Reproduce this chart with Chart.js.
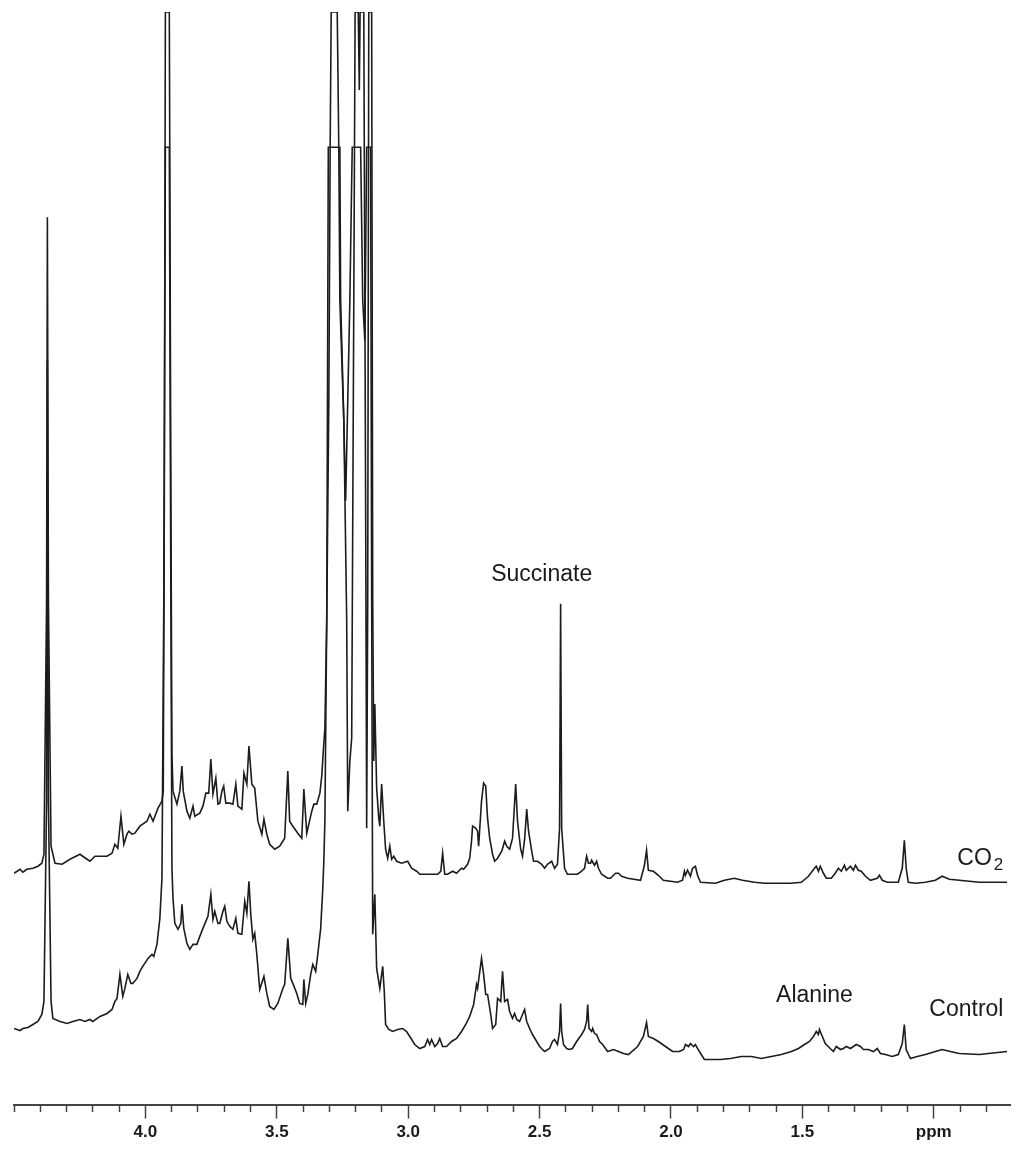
<!DOCTYPE html>
<html>
<head>
<meta charset="utf-8">
<script src="https://cdn.jsdelivr.net/npm/chart.js@4.4.0/dist/chart.umd.min.js"></script>
<style>
  html, body { margin: 0; padding: 0; background: #ffffff; }
  #wrap { width: 1024px; height: 1151px; }
</style>
</head>
<body>
<div id="wrap"><canvas id="nmr" width="1024" height="1151"></canvas></div>
<script>
// 1H NMR spectra, [chemical shift (ppm), intensity]
const co2Trace = [
  [4.500, 231], [4.477, 235], [4.466, 232], [4.451, 235], [4.428, 236], [4.409, 238], [4.394, 241], [4.386, 250],
  [4.376, 503], [4.373, 886], [4.369, 503], [4.359, 258], [4.344, 241], [4.317, 240], [4.287, 245], [4.249, 250],
  [4.222, 245], [4.211, 243], [4.192, 248], [4.146, 248], [4.127, 251], [4.116, 260], [4.105, 256], [4.093, 288],
  [4.082, 260], [4.070, 270], [4.063, 273], [4.051, 270], [4.040, 271], [4.021, 278], [3.994, 283], [3.983, 290],
  [3.971, 283], [3.952, 296], [3.937, 303], [3.932, 313], [3.928, 603], [3.924, 1091], [3.909, 1091], [3.903, 603],
  [3.899, 350], [3.895, 313], [3.880, 300], [3.869, 313], [3.861, 338], [3.856, 313], [3.842, 293], [3.831, 286],
  [3.819, 298], [3.812, 288], [3.793, 291], [3.781, 298], [3.770, 311], [3.759, 311], [3.751, 345], [3.743, 310],
  [3.732, 326], [3.724, 300], [3.717, 301], [3.709, 313], [3.702, 318], [3.694, 301], [3.679, 301], [3.667, 300],
  [3.656, 320], [3.648, 298], [3.633, 295], [3.625, 331], [3.614, 320], [3.606, 358], [3.595, 320], [3.584, 316],
  [3.572, 283], [3.557, 270], [3.549, 285], [3.538, 270], [3.527, 260], [3.508, 255], [3.489, 258], [3.470, 266],
  [3.458, 333], [3.451, 283], [3.439, 278], [3.420, 271], [3.405, 266], [3.397, 315], [3.386, 271], [3.378, 280],
  [3.367, 293], [3.359, 300], [3.348, 300], [3.336, 311], [3.329, 328], [3.323, 353], [3.317, 376], [3.310, 483],
  [3.302, 703], [3.297, 953], [3.293, 1091], [3.270, 1091], [3.264, 953], [3.260, 803], [3.245, 683], [3.234, 483],
  [3.230, 293], [3.222, 343], [3.215, 366], [3.207, 803], [3.202, 1091], [3.190, 1091], [3.186, 1013], [3.183, 1091],
  [3.169, 1091], [3.162, 603], [3.158, 276], [3.154, 503], [3.150, 1091], [3.139, 1091], [3.135, 503], [3.131, 343],
  [3.127, 400], [3.120, 316], [3.112, 286], [3.108, 278], [3.101, 320], [3.093, 283], [3.086, 255], [3.078, 246],
  [3.070, 258], [3.063, 245], [3.055, 248], [3.044, 243], [3.025, 241], [3.002, 243], [2.987, 236], [2.968, 233],
  [2.956, 230], [2.888, 230], [2.876, 233], [2.869, 251], [2.861, 230], [2.850, 230], [2.831, 233], [2.816, 231],
  [2.797, 236], [2.789, 235], [2.774, 240], [2.766, 246], [2.759, 263], [2.755, 278], [2.743, 276], [2.736, 273],
  [2.732, 258], [2.721, 303], [2.713, 321], [2.705, 318], [2.698, 286], [2.690, 266], [2.679, 250], [2.671, 243],
  [2.660, 246], [2.644, 253], [2.633, 263], [2.625, 258], [2.614, 255], [2.603, 266], [2.591, 320], [2.584, 283],
  [2.572, 255], [2.565, 248], [2.557, 265], [2.549, 295], [2.542, 273], [2.530, 253], [2.523, 243], [2.508, 243],
  [2.492, 240], [2.481, 236], [2.470, 240], [2.454, 243], [2.443, 236], [2.432, 240], [2.424, 276], [2.420, 500],
  [2.416, 276], [2.405, 236], [2.394, 230], [2.356, 230], [2.340, 233], [2.329, 236], [2.321, 248], [2.314, 241],
  [2.306, 241], [2.302, 244], [2.291, 239], [2.283, 243], [2.276, 236], [2.264, 230], [2.241, 226], [2.230, 226],
  [2.211, 231], [2.200, 231], [2.188, 228], [2.165, 226], [2.116, 224], [2.101, 239], [2.093, 254], [2.086, 234],
  [2.067, 233], [2.048, 229], [2.029, 224], [1.975, 222], [1.956, 224], [1.949, 233], [1.945, 229], [1.937, 234],
  [1.926, 228], [1.918, 236], [1.907, 238], [1.899, 229], [1.888, 222], [1.831, 221], [1.797, 224], [1.759, 226],
  [1.728, 224], [1.682, 222], [1.644, 221], [1.542, 221], [1.504, 222], [1.477, 228], [1.454, 236], [1.447, 238],
  [1.439, 233], [1.432, 238], [1.420, 231], [1.409, 226], [1.390, 226], [1.375, 231], [1.363, 236], [1.352, 233],
  [1.340, 239], [1.333, 234], [1.317, 238], [1.306, 234], [1.298, 239], [1.287, 234], [1.276, 233], [1.260, 228],
  [1.241, 224], [1.215, 226], [1.207, 229], [1.196, 224], [1.177, 222], [1.135, 222], [1.120, 236], [1.112, 264],
  [1.105, 236], [1.097, 222], [1.070, 221], [1.032, 222], [0.994, 224], [0.968, 228], [0.941, 225], [0.903, 224],
  [0.827, 222], [0.721, 222]
];

const controlTrace = [
  [4.500, 76], [4.477, 74], [4.466, 76], [4.447, 77], [4.428, 80], [4.409, 83], [4.394, 90], [4.386, 103],
  [4.376, 303], [4.373, 743], [4.369, 303], [4.359, 103], [4.352, 86], [4.325, 83], [4.298, 81], [4.276, 83],
  [4.249, 85], [4.230, 83], [4.211, 85], [4.200, 83], [4.173, 88], [4.146, 91], [4.127, 95], [4.116, 103],
  [4.108, 106], [4.097, 130], [4.086, 108], [4.078, 116], [4.067, 130], [4.055, 121], [4.048, 121], [4.032, 126],
  [4.021, 133], [4.010, 138], [3.990, 146], [3.975, 150], [3.968, 148], [3.956, 160], [3.945, 186], [3.937, 226],
  [3.930, 503], [3.924, 956], [3.909, 956], [3.903, 503], [3.899, 236], [3.895, 206], [3.888, 181], [3.876, 175],
  [3.865, 181], [3.861, 200], [3.854, 176], [3.842, 161], [3.831, 155], [3.819, 160], [3.804, 160], [3.793, 168],
  [3.781, 176], [3.770, 183], [3.762, 188], [3.751, 210], [3.743, 185], [3.736, 193], [3.724, 181], [3.717, 181],
  [3.705, 193], [3.698, 198], [3.690, 183], [3.679, 178], [3.667, 175], [3.656, 186], [3.648, 171], [3.633, 170],
  [3.622, 203], [3.614, 191], [3.606, 223], [3.599, 190], [3.591, 165], [3.584, 171], [3.576, 150], [3.565, 115],
  [3.549, 128], [3.538, 111], [3.527, 98], [3.511, 95], [3.496, 101], [3.477, 116], [3.470, 120], [3.458, 166],
  [3.447, 126], [3.439, 121], [3.424, 111], [3.413, 101], [3.401, 100], [3.397, 125], [3.390, 101], [3.382, 110],
  [3.371, 130], [3.363, 140], [3.352, 133], [3.344, 150], [3.333, 176], [3.325, 216], [3.321, 243], [3.317, 283],
  [3.310, 483], [3.304, 956], [3.260, 956], [3.257, 803], [3.245, 683], [3.238, 603], [3.222, 803], [3.213, 956],
  [3.181, 956], [3.173, 803], [3.165, 763], [3.158, 956], [3.143, 956], [3.139, 503], [3.135, 170], [3.127, 210],
  [3.120, 136], [3.108, 116], [3.097, 138], [3.091, 113], [3.086, 80], [3.074, 75], [3.059, 73], [3.040, 75],
  [3.021, 76], [3.006, 73], [2.994, 68], [2.975, 60], [2.956, 56], [2.937, 58], [2.926, 65], [2.918, 60],
  [2.911, 65], [2.899, 58], [2.888, 61], [2.880, 66], [2.869, 58], [2.854, 58], [2.835, 63], [2.816, 66],
  [2.797, 73], [2.781, 80], [2.766, 88], [2.751, 100], [2.740, 120], [2.736, 116], [2.721, 146], [2.713, 130],
  [2.705, 110], [2.698, 110], [2.686, 90], [2.679, 76], [2.667, 80], [2.660, 106], [2.648, 103], [2.641, 133],
  [2.633, 103], [2.622, 105], [2.614, 93], [2.603, 86], [2.595, 91], [2.587, 85], [2.576, 83], [2.565, 90],
  [2.557, 95], [2.549, 83], [2.538, 76], [2.527, 70], [2.511, 63], [2.500, 58], [2.481, 53], [2.462, 56],
  [2.451, 63], [2.443, 65], [2.432, 60], [2.424, 73], [2.420, 101], [2.416, 73], [2.409, 60], [2.397, 56],
  [2.386, 55], [2.375, 56], [2.359, 63], [2.340, 70], [2.329, 75], [2.321, 83], [2.317, 100], [2.312, 76],
  [2.302, 73], [2.298, 76], [2.291, 71], [2.283, 70], [2.272, 63], [2.260, 60], [2.241, 53], [2.219, 55],
  [2.200, 53], [2.181, 51], [2.162, 50], [2.127, 58], [2.105, 68], [2.093, 82], [2.086, 68], [2.067, 66],
  [2.048, 63], [2.021, 58], [1.994, 53], [1.968, 53], [1.952, 55], [1.945, 60], [1.933, 58], [1.926, 61],
  [1.914, 58], [1.907, 60], [1.892, 53], [1.873, 45], [1.812, 45], [1.774, 46], [1.732, 48], [1.694, 48],
  [1.656, 46], [1.618, 48], [1.580, 50], [1.542, 53], [1.515, 56], [1.492, 60], [1.473, 63], [1.458, 68],
  [1.447, 73], [1.439, 70], [1.435, 75], [1.424, 68], [1.413, 61], [1.394, 56], [1.382, 53], [1.371, 58],
  [1.355, 55], [1.344, 56], [1.333, 58], [1.317, 56], [1.306, 58], [1.295, 60], [1.279, 58], [1.268, 55],
  [1.249, 55], [1.230, 53], [1.215, 56], [1.203, 51], [1.184, 50], [1.158, 48], [1.135, 50], [1.120, 61],
  [1.112, 80], [1.105, 55], [1.089, 46], [1.063, 48], [1.032, 50], [0.994, 53], [0.968, 55], [0.937, 53],
  [0.903, 51], [0.827, 50], [0.721, 53]
];

// axis ticks
const majorTicks = [4.0, 3.5, 3.0, 2.5, 2.0, 1.5, 1.0];
const majorLabels = ['4.0', '3.5', '3.0', '2.5', '2.0', '1.5', 'ppm'];
const minorTicks = [4.5, 4.4, 4.3, 4.2, 4.1, 3.9, 3.8, 3.7, 3.6, 3.4, 3.3, 3.2, 3.1, 2.9, 2.8, 2.7, 2.6,
                    2.4, 2.3, 2.2, 2.1, 1.9, 1.8, 1.7, 1.6, 1.4, 1.3, 1.2, 1.1, 0.9, 0.8];

// peak / trace annotations (centre ppm, vertical level, subscript)
const noteText = ['Succinate', 'CO', 'Alanine', 'Control'];
const noteSub = ['', '2', '', ''];
const notePpm = [2.492, 0.823, 1.454, 0.876];
const noteLevel = [529, 246, 109, 95];

const majorIndex = v => majorTicks.findIndex(m => Math.abs(m - v) < 1e-6);

const notesPlugin = {
    id: 'notes',
    afterDatasetsDraw(chart) {
        const ctx = chart.ctx;
        const xs = chart.scales.x;
        const ys = chart.scales.y;
        const mainFont = '23px "Liberation Sans", Arial, sans-serif';
        const subFont = '17px "Liberation Sans", Arial, sans-serif';
        ctx.save();
        ctx.fillStyle = '#1a1a1a';
        ctx.textBaseline = 'middle';
        ctx.textAlign = 'left';
        noteText.forEach((t, i) => {
            ctx.font = mainFont;
            const w = ctx.measureText(t).width;
            let total = w;
            if (noteSub[i]) {
                ctx.font = subFont;
                total += 2 + ctx.measureText(noteSub[i]).width;
            }
            const left = xs.getPixelForValue(notePpm[i]) - total / 2;
            const py = ys.getPixelForValue(noteLevel[i]);
            ctx.font = mainFont;
            ctx.fillText(t, left, py);
            if (noteSub[i]) {
                ctx.font = subFont;
                ctx.fillText(noteSub[i], left + w + 2, py + 7);
            }
        });
        ctx.restore();
    }
};

const toPoints = trace => trace.map(p => ({ x: p[0], y: p[1] }));

const ctx = document.getElementById('nmr').getContext('2d');
const chart = new Chart(ctx, {
    type: 'line',
    data: {
        datasets: [
            {
                label: 'CO2',
                data: toPoints(co2Trace),
                borderColor: '#1c1c1c',
                borderWidth: 1.6,
                pointRadius: 0,
                tension: 0
            },
            {
                label: 'Control',
                data: toPoints(controlTrace),
                borderColor: '#1c1c1c',
                borderWidth: 1.6,
                pointRadius: 0,
                tension: 0
            }
        ]
    },
    options: {
        responsive: false,
        animation: false,
        layout: { padding: { left: 14, right: 14, top: 12, bottom: 4 } },
        plugins: {
            legend: { display: false },
            tooltip: { enabled: false }
        },
        scales: {
            x: {
                type: 'linear',
                reverse: true,
                min: 0.71,
                max: 4.5,
                afterBuildTicks: scale => {
                    scale.ticks = majorTicks.concat(minorTicks)
                        .sort((a, b) => b - a)
                        .map(v => ({ value: v }));
                },
                ticks: {
                    autoSkip: false,
                    maxRotation: 0,
                    padding: 4,
                    color: '#1a1a1a',
                    font: { family: '"Liberation Sans", Arial, sans-serif', size: 17, weight: 'bold' },
                    callback: value => {
                        const k = majorIndex(value);
                        return k >= 0 ? majorLabels[k] : '';
                    }
                },
                grid: {
                    drawOnChartArea: false,
                    drawTicks: true,
                    tickLength: 14,
                    tickColor: '#444444',
                    tickWidth: 1.5,
                    tickBorderDash: c => (c.tick && majorIndex(c.tick.value) >= 0) ? [] : [6, 40]
                },
                border: { display: true, color: '#444444', width: 2 }
            },
            y: {
                display: false,
                min: 0,
                max: 1091
            }
        }
    },
    plugins: [notesPlugin]
});
</script>
</body>
</html>
